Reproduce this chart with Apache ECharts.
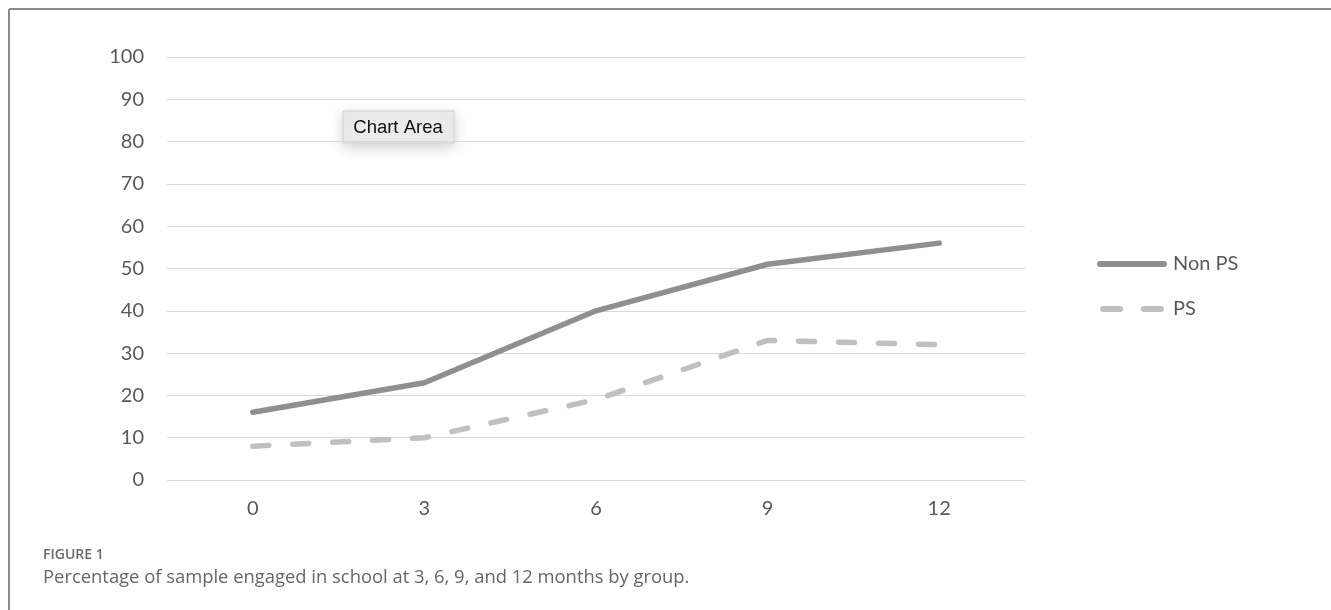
<!DOCTYPE html>
<html>
<head>
<meta charset="utf-8">
<script src="https://cdn.jsdelivr.net/npm/echarts@6/dist/echarts.min.js"></script>
<style>
  html, body { margin: 0; padding: 0; background: #fff; }
  #chart { width: 1331px; height: 610px; }
</style>
</head>
<body>
<div id="chart"></div>
<script>
// Months since baseline
const months = ['0', '3', '6', '9', '12'];
// Percentage engaged in school, by group
const nonPS = [16, 23, 40, 51, 56];
const ps = [8, 10, 19, 33, 32];
const seriesNames = ['Non PS', 'PS'];

const chart = echarts.init(document.getElementById('chart'));
const labelFont = 'Lato, "Open Sans", sans-serif';

// legend swatches: one solid rounded bar, two rounded dashes
const solidIcon = 'path://M3,0 H67 A3,3 0 0 1 67,6 H3 A3,3 0 0 1 3,0 Z';
const dashIcon = 'path://M3,0 H20 A3,3 0 0 1 20,6 H3 A3,3 0 0 1 3,0 Z M44,0 H61 A3,3 0 0 1 61,6 H44 A3,3 0 0 1 44,0 Z';

chart.setOption({
  backgroundColor: '#ffffff',
  animation: false,
  grid: { left: 167, right: 306, top: 57, bottom: 130, containLabel: false },
  xAxis: {
    type: 'category',
    data: months,
    boundaryGap: true,
    axisLine: { show: true, lineStyle: { color: '#d9d9d9', width: 1 } },
    axisTick: { show: false },
    axisLabel: { color: '#595959', fontSize: 20, fontFamily: labelFont, margin: 19 }
  },
  yAxis: {
    type: 'value',
    min: 0, max: 100, interval: 10,
    axisLine: { show: false },
    axisTick: { show: false },
    axisLabel: { color: '#595959', fontSize: 20, fontFamily: labelFont, margin: 23 },
    splitLine: { lineStyle: { color: '#d9d9d9', width: 1 } }
  },
  legend: {
    orient: 'vertical',
    left: 1092,
    top: 249,
    itemWidth: 70,
    itemHeight: 6,
    itemGap: 25,
    textStyle: { color: '#595959', fontSize: 20, fontFamily: labelFont, padding: [0, 0, 0, 1] },
    data: [
      { name: seriesNames[0], icon: solidIcon, itemStyle: { color: '#8f8f8f' } },
      { name: seriesNames[1], icon: dashIcon, itemStyle: { color: '#c0c0c0' } }
    ]
  },
  series: [
    {
      name: seriesNames[0],
      type: 'line',
      data: nonPS,
      symbol: 'none',
      lineStyle: { color: '#8f8f8f', width: 5.5, cap: 'round', join: 'round' },
      itemStyle: { color: '#8f8f8f' }
    },
    {
      name: seriesNames[1],
      type: 'line',
      data: ps,
      symbol: 'none',
      lineStyle: { color: '#c0c0c0', width: 5.5, type: [16, 24], cap: 'round', join: 'round' },
      itemStyle: { color: '#c0c0c0' }
    }
  ],
  graphic: [
    // figure frame
    { type: 'line', shape: { x1: 9, y1: 9, x2: 1331, y2: 9 }, style: { stroke: '#8a8a8a', lineWidth: 2 } },
    { type: 'line', shape: { x1: 9, y1: 9, x2: 9, y2: 610 }, style: { stroke: '#8a8a8a', lineWidth: 2 } },
    // hover label box
    {
      type: 'rect',
      shape: { x: 343, y: 111, width: 111, height: 32 },
      style: { fill: '#ececec', stroke: '#d0d0d0', lineWidth: 1, shadowBlur: 14, shadowColor: 'rgba(0,0,0,0.18)', shadowOffsetY: 4 }
    },
    {
      type: 'text',
      x: 398, y: 128,
      style: { text: 'Chart Area', fill: '#111', font: '18.5px "Liberation Sans", Arial, sans-serif', textAlign: 'center', textVerticalAlign: 'middle' }
    },
    // caption
    {
      type: 'text',
      left: 43, top: 548,
      style: { text: 'FIGURE 1', fill: '#6a6a6a', font: '600 14px "Open Sans", sans-serif' }
    },
    {
      type: 'text',
      left: 43, top: 569,
      style: { text: 'Percentage of sample engaged in school at 3, 6, 9, and 12 months by group.', fill: '#666', font: '18.4px "Open Sans", sans-serif' }
    }
  ]
});
</script>
</body>
</html>
